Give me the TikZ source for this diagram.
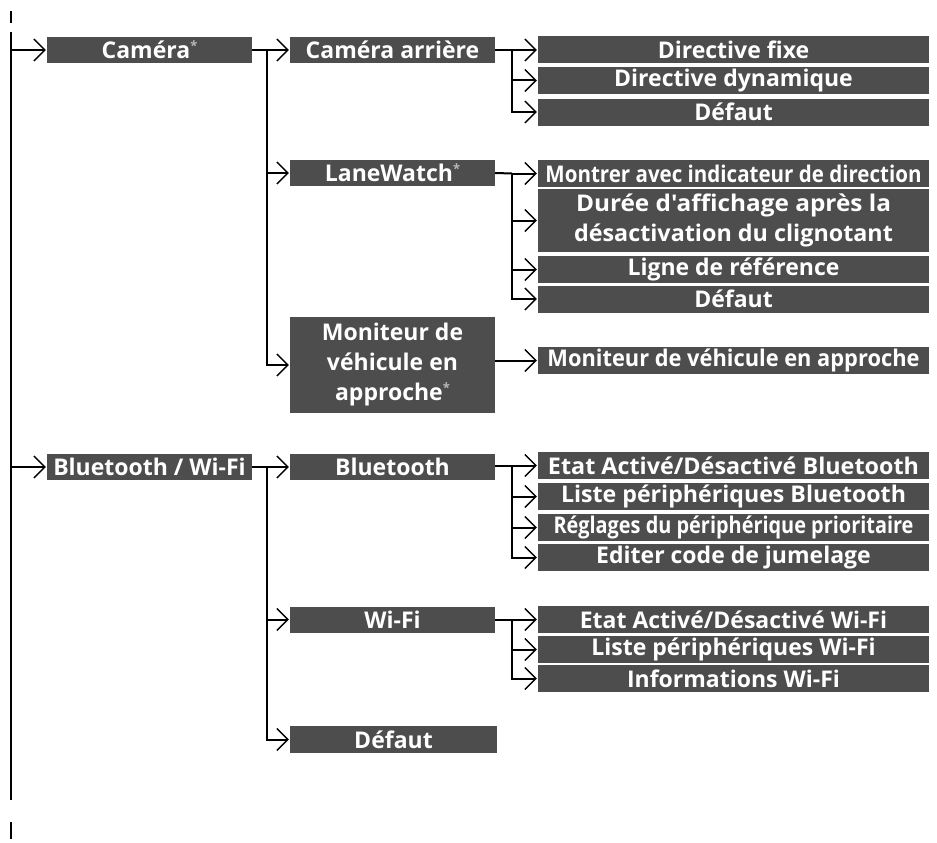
\documentclass[tikz,border=0pt]{standalone}
\usepackage{fontspec}
\usepackage{graphicx}
\setmainfont{Open Sans}[Ligatures=TeXOff]
\usetikzlibrary{arrows.meta}
\definecolor{boxgray}{RGB}{77,77,77}
\newcommand{\myast}{{\color{white!72!black}\raisebox{8pt}{\fontsize{13}{13}\selectfont *}}}
\newcommand{\fitw}[2]{\resizebox{#1pt}{\height}{#2}}
\begin{document}
\begin{tikzpicture}[x=1pt,y=-1pt,
  box/.style={fill=boxgray,text=white,inner sep=0pt,align=center,
    font=\bfseries\fontsize{23}{30}\selectfont},
  lone/.style={box,minimum width=205,minimum height=26},
  ltwo/.style={box,minimum width=205,minimum height=26},
  leaf/.style={box,minimum width=391,minimum height=27},
  ln/.style={line width=2pt,line cap=butt},
  arr/.style={ln,-{Straight Barb[length=11pt,width=22pt,line width=1.4pt]},shorten >=1pt}]
\useasboundingbox (0,0) rectangle (937,843);
% level 1
\node[lone] (cam) at (149.5,50) {Caméra\myast};
\node[lone] (btw) at (149.5,467) {Bluetooth / Wi-Fi};
% level 2
\node[ltwo] (car) at (392.5,50) {Caméra arrière};
\node[ltwo] (lw) at (392.5,173) {LaneWatch\myast};
\node[ltwo,minimum height=96] (mon) at (392.5,365) {Moniteur de\\véhicule en\\approche\myast};
\node[ltwo] (bt) at (392.5,467) {Bluetooth};
\node[ltwo] (wf) at (392.5,619.5) {Wi-Fi};
\node[ltwo,minimum width=207,minimum height=27] (dfb) at (393.5,739.5) {Défaut};
% leaves
\node[leaf] (dfx) at (733.5,50) {Directive fixe};
\node[leaf] (ddy) at (733.5,80.5) {Directive dynamique};
\node[leaf] (dca) at (733.5,112) {Défaut};
\node[leaf] (mid) at (733.5,173.5) {\fitw{376}{Montrer avec indicateur de direction}};
\node[leaf,minimum height=63] (dur) at (733.5,220.5) {\fitw{315}{Durée d'affichage après la}\\\fitw{319}{désactivation du clignotant}};
\node[leaf] (lig) at (733.5,269.5) {Ligne de référence};
\node[leaf] (dlw) at (733.5,299) {Défaut};
\node[leaf] (mva) at (733.5,360.5) {\fitw{372}{Moniteur de véhicule en approche}};
\node[leaf] (ebt) at (733.5,465.5) {\fitw{371}{Etat Activé/Désactivé Bluetooth}};
\node[leaf] (lbt) at (733.5,496.5) {\fitw{345}{Liste périphériques Bluetooth}};
\node[leaf] (rpp) at (733.5,527.5) {\fitw{360}{Réglages du périphérique prioritaire}};
\node[leaf] (ecj) at (733.5,557.5) {Editer code de jumelage};
\node[leaf] (ewf) at (733.5,619.5) {Etat Activé/Désactivé Wi-Fi};
\node[leaf] (lwf) at (733.5,649.5) {Liste périphériques Wi-Fi};
\node[leaf] (iwf) at (733.5,678.5) {Informations Wi-Fi};
% main spine
\coordinate (tk1) at (11,11); \coordinate (tk2) at (11,23);
\coordinate (sp1) at (11,32); \coordinate (sp2) at (11,800);
\coordinate (tk3) at (11,822); \coordinate (tk4) at (11,839);
\draw[ln] (tk1) -- (tk2);
\draw[ln] (tk3) -- (tk4);
\draw[ln] (sp1) -- (sp2);
\draw[arr] (sp1 |- cam.west) -- (cam.west);
\draw[arr] (sp1 |- btw.west) -- (btw.west);
% level-1 branches
\coordinate (b1) at (267,50);
\coordinate (b2) at (267,467);
\draw[ln] (cam.east) -- (b1);
\draw[arr] (b1) -- (car.west);
\draw[arr] (b1) |- (lw.west);
\draw[arr] (b1) |- (mon.west);
\draw[ln] (btw.east) -- (b2);
\draw[arr] (b2) -- (bt.west);
\draw[arr] (b2) |- (wf.west);
\draw[arr] (b2) |- (dfb.west);
% level-2 branches
\coordinate (c1) at (512,50);
\draw[ln] (car.east) -- (c1);
\draw[arr] (c1) -- (dfx.west);
\draw[arr] (c1) |- (ddy.west);
\draw[arr] (c1) |- (dca.west);
\coordinate (c2) at (512,173.5);
\draw[ln] (lw.east) -- (c2);
\draw[arr] (c2) -- (mid.west);
\draw[arr] (c2) |- (dur.west);
\draw[arr] (c2) |- (lig.west);
\draw[arr] (c2) |- (dlw.west);
\draw[arr] (mon.east |- mva.west) -- (mva.west);
\coordinate (c3) at (512,465.5);
\draw[ln] (bt.east |- c3) -- (c3);
\draw[arr] (c3) -- (ebt.west);
\draw[arr] (c3) |- (lbt.west);
\draw[arr] (c3) |- (rpp.west);
\draw[arr] (c3) |- (ecj.west);
\coordinate (c4) at (512,619.5);
\draw[ln] (wf.east) -- (c4);
\draw[arr] (c4) -- (ewf.west);
\draw[arr] (c4) |- (lwf.west);
\draw[arr] (c4) |- (iwf.west);
\end{tikzpicture}
\end{document}
